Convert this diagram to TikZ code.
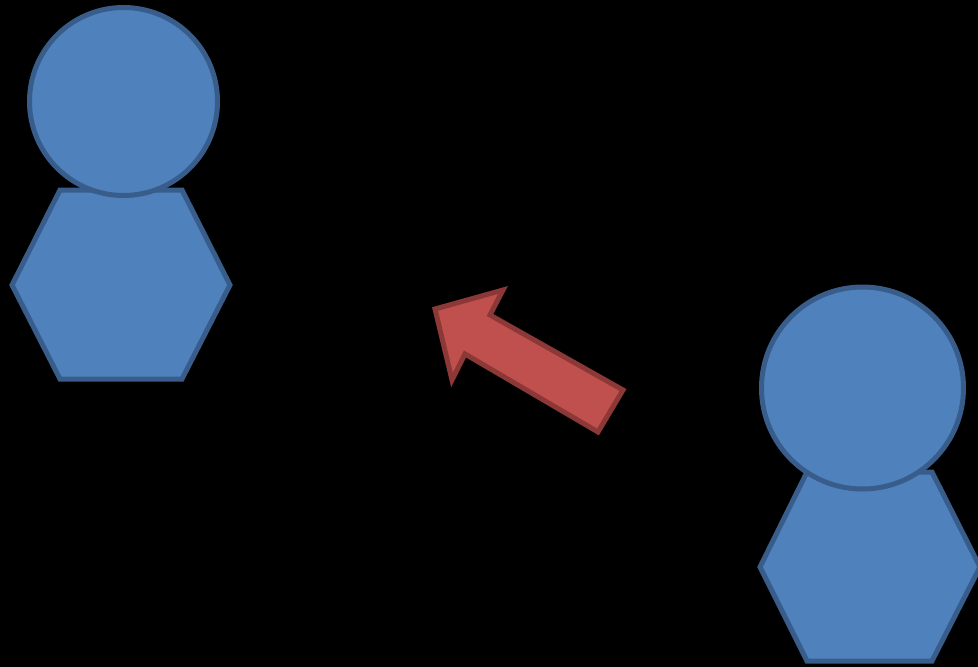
\documentclass[tikz,border=0pt]{standalone}
\usetikzlibrary{arrows}
\definecolor{headblue}{HTML}{4F81BD}
\definecolor{edgeblue}{HTML}{385D8A}
\definecolor{arrowred}{HTML}{C0504D}
\definecolor{edgered}{HTML}{8C3836}
\tikzset{
  body/.style = {fill=headblue, draw=edgeblue, line width=5pt,
    line join=miter},% corps, hexagone
  head/.style = {circle, fill=headblue, draw=edgeblue, line width=5pt,
    inner sep=0pt},% tete, cercle
  pointer/.style = {fill=arrowred, draw=edgered, line width=5pt,
    line join=miter}% fleche rouge
}
\begin{document}
\begin{tikzpicture}[x=1pt,y=-1pt]
	\fill[black] (0,0) rectangle (978,667);
	\clip (0,0) rectangle (978,667);
	% personne gauche
	\draw[body] (60,190) -- (182,190) -- (230,285) -- (182,379) -- (60,379) -- (12,285) -- cycle;
	\node [head, minimum size=188pt] (head_l) at (123.5,101.5) {};
	% personne droite
	\draw[body] (807,472) -- (932,472) -- (980,567) -- (932,661) -- (807,661) -- (760,567) -- cycle;
	\node [head, minimum size=202pt] (head_r) at (862.5,388) {};
	% fleche
	\draw[pointer] (435,309) -- (503,290) -- (490,315) -- (623,390) -- (598,432)
	  -- (465,354) -- (452,380) -- cycle;
\end{tikzpicture}
\end{document}
